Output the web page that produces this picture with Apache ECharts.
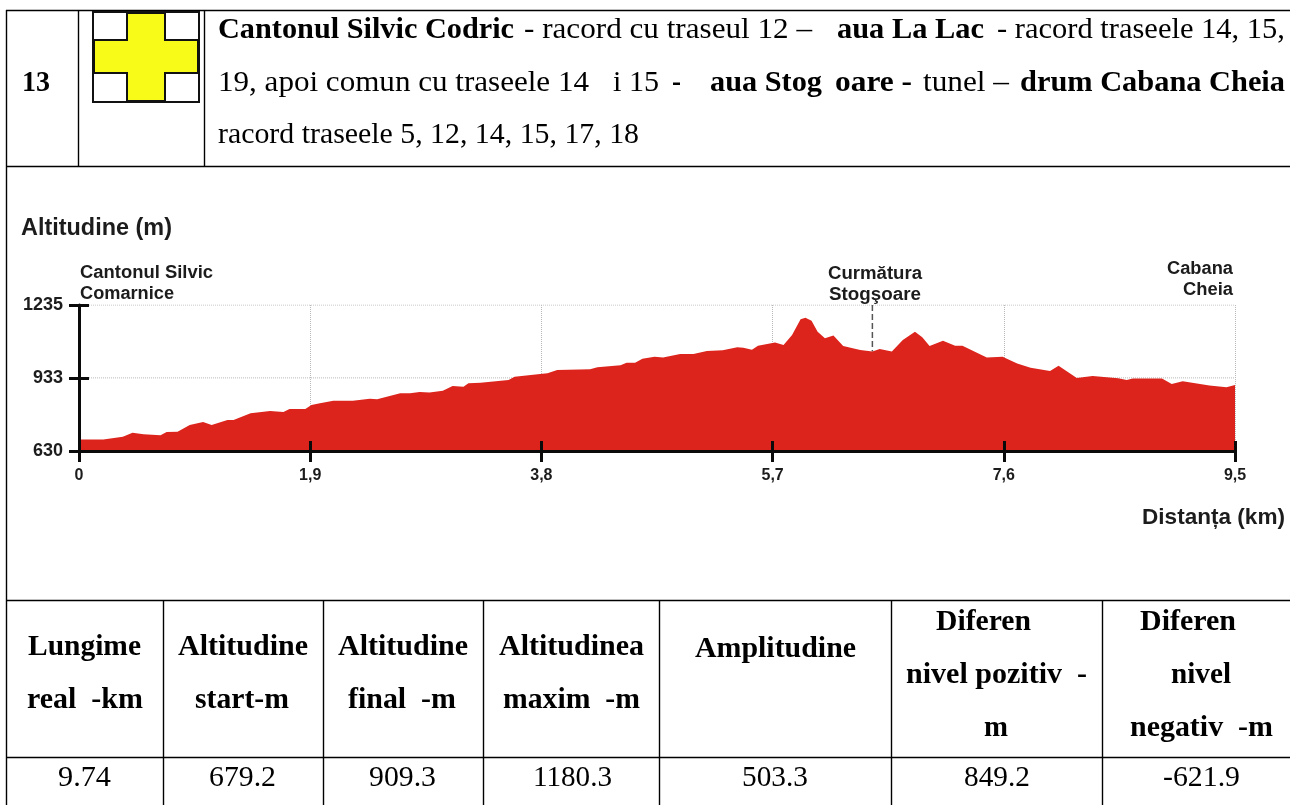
<!DOCTYPE html>
<html><head><meta charset="utf-8">
<style>html,body{margin:0;padding:0;background:#fff}#c{width:1290px;height:805px}</style>
<script src="https://cdn.jsdelivr.net/npm/echarts@6/dist/echarts.min.js"></script>
</head><body><div id="c"></div>
<script>
// ---- chart values ----
const distanceKm = [0,0.01,0.20,0.36,0.44,0.53,0.67,0.72,0.81,0.91,1.02,1.09,1.22,1.27,1.41,1.57,1.68,1.73,1.86,1.91,1.98,2.09,2.25,2.39,2.45,2.64,2.72,2.80,2.88,2.99,3.07,3.16,3.20,3.30,3.53,3.58,3.79,3.85,3.93,4.20,4.26,4.45,4.50,4.57,4.63,4.73,4.80,4.94,5.05,5.16,5.29,5.41,5.46,5.53,5.58,5.72,5.79,5.86,5.93,5.97,6.02,6.07,6.13,6.20,6.28,6.42,6.52,6.58,6.68,6.77,6.87,6.93,6.99,7.10,7.20,7.26,7.46,7.59,7.71,7.82,7.98,8.05,8.20,8.33,8.54,8.61,8.66,8.90,8.98,9.07,9.29,9.43,9.50];
const altitudeM = [678,678,678,689,706,699,695,709,710,738,750,738,758,758,786,796,792,804,804,821,828,838,838,847,844,869,869,874,872,880,899,896,911,913,924,938,949,952,966,969,977,985,996,996,1012,1021,1017,1032,1032,1044,1047,1060,1058,1050,1066,1080,1069,1111,1176,1182,1170,1124,1097,1109,1065,1049,1042,1053,1042,1090,1124,1101,1065,1087,1066,1066,1017,1021,993,975,962,983,933,941,931,924,930,930,908,919,901,894,904];
const xTicks = [0,1.9,3.8,5.7,7.6,9.5];
const yTicks = [630,933,1235];
const saddleKm = [6.52,6.52];
const saddleAlt = [1235,1042];

// ---- texts ----
const chartTexts = ["Altitudine (m)","Cantonul Silvic","Comarnice","Curmătura","Stogşoare","Cabana","Cheia","Distanța (km)"];
const routeTexts = ["13","Cantonul Silvic Codric","- racord cu traseul 12 –","aua La Lac","- racord traseele 14, 15,","19, apoi comun cu traseele 14","i 15","-","aua Stog","oare -","tunel –","drum Cabana Cheia","racord traseele 5, 12, 14, 15, 17, 18"];
const statHeaders = ["Lungime","real  -km","Altitudine","start-m","Altitudine","final  -m","Altitudinea","maxim  -m","Amplitudine","Diferen","nivel pozitiv  -","m","Diferen","nivel","negativ  -m"];
const statValues = ["9.74","679.2","909.3","1180.3","503.3","849.2","-621.9"];

// ---- layout (x0, x1, y) parallel to the text lists ----
const chartTextPos = [[21,172,229,23],[80,213,273,18],[80,174,294,18],[828,922,274,18],[829,921,295,18],[1167,1233,269,18],[1183,1233,290,18],[1142,1285,518,22.5]];
const routeTextPos = [[22,50,83,1],[218,514,30,1],[524,812,30,0],[837,984,30,1],[997,1285,30,0],[218,589,83,0],[613,659,83,0],[672,681,83,1],[710,822,83,1],[835,912,83,1],[923,1009,83,0],[1020,1285,83,1],[218,639,135,0]];
const headerPos = [[28,141,647],[27,143,700],[178,308,647],[195,289,700],[338,468,647],[348,456,700],[499,644,647],[503,640,700],[695,856,649],[936,1031,622],[906,1087,675],[984,1008,728],[1140,1236,622],[1171,1231,675],[1130,1273,728]];
const valuePos = [[58,111],[209,276],[369,436],[533,612],[742,808],[964,1030],[1163,1240]];
const hLines = [[6,1290,10],[6,1290,166],[6,1290,600],[6,1290,757]];
const vLines = [[6,10,805],[78,10,166],[204,10,166],[163,600,805],[323,600,805],[483,600,805],[659,600,805],[891,600,805],[1102,600,805]];

const mc = document.createElement('canvas').getContext('2d');
function fit(str,x0,x1,y,font,fill){
  mc.font = font;
  const w = mc.measureText(str).width;
  return {type:'text',x:x0,y:y,scaleX:(x1-x0)/w,z:10,silent:true,
    style:{text:str,font:font,fill:fill,textAlign:'left',textVerticalAlign:'middle'}};
}
const serif = (b,s)=>(b?'bold ':'')+s+'px "Liberation Serif"';
const sans = s=>'bold '+s+'px "Liberation Sans"';
const g = [];
hLines.forEach(l=>g.push({type:'line',z:9,silent:true,shape:{x1:l[0],y1:l[2]+.5,x2:l[1],y2:l[2]+.5},style:{stroke:'#000',lineWidth:1.4}}));
vLines.forEach(l=>g.push({type:'line',z:9,silent:true,shape:{x1:l[0]+.5,y1:l[1],x2:l[0]+.5,y2:l[2]},style:{stroke:'#000',lineWidth:1.4}}));
// trail marker: a yellow cross in a black square
g.push({type:'rect',z:9,silent:true,shape:{x:93,y:12,width:106,height:90},style:{fill:'#fff',stroke:'#111',lineWidth:2}});
g.push({type:'polygon',z:9,silent:true,shape:{points:[[127,13],[165,13],[165,40],[198,40],[198,73],[165,73],[165,101],[127,101],[127,73],[94,73],[94,40],[127,40]]},style:{fill:'#f8fb18',stroke:'#111',lineWidth:2}});
chartTexts.forEach((t,i)=>{const p=chartTextPos[i];g.push(fit(t,p[0],p[1],p[2],sans(p[3]),'#1c1c1c'));});
routeTexts.forEach((t,i)=>{const p=routeTextPos[i];g.push(fit(t,p[0],p[1],p[2],serif(p[3],30),'#000'));});
statHeaders.forEach((t,i)=>{const p=headerPos[i];g.push(fit(t,p[0],p[1],p[2],serif(1,30),'#000'));});
statValues.forEach((t,i)=>{const p=valuePos[i];g.push(fit(t,p[0],p[1],778,serif(0,30),'#000'));});

const blackLine = {show:true,onZero:false,lineStyle:{color:'#0a0a0a',width:3}};
const grid = {type:'dotted',color:'#b9b9b9',width:1};
const xBase = {type:'value',min:0,max:9.5,interval:1.9,position:'bottom',scale:false};
const yBase = {type:'value',min:630,max:1235,position:'left'};
const option = {
  animation:false,
  backgroundColor:'#fff',
  grid:{left:79,top:305,width:1156,height:146,containLabel:false},
  xAxis:[
    {...xBase,z:0,axisLine:{show:false},axisTick:{show:false},axisLabel:{show:false},splitLine:{show:true,lineStyle:grid}},
    {...xBase,z:5,axisLine:blackLine,splitLine:{show:false},
      axisTick:{show:true,inside:false,length:11,lineStyle:{color:'#0a0a0a',width:3}},
      axisLabel:{show:true,margin:17,color:'#1c1c1c',fontFamily:'Liberation Sans',fontWeight:'bold',fontSize:16,hideOverlap:false,showMinLabel:true,showMaxLabel:true,
        formatter:v=>String(xTicks.find(t=>Math.abs(t-v)<1e-6)).replace('.',',')}},
    {...xBase,z:5,axisLine:{show:false},splitLine:{show:false},axisLabel:{show:false},
      axisTick:{show:true,inside:true,length:10,lineStyle:{color:'#0a0a0a',width:3}}}
  ],
  yAxis:[
    {...yBase,z:0,axisLine:{show:false},axisLabel:{show:false},axisTick:{show:false},
      splitLine:{show:false}},
    {...yBase,z:5,axisLine:blackLine,splitLine:{show:false},
      axisTick:{show:true,inside:false,length:10,customValues:yTicks,lineStyle:{color:'#0a0a0a',width:3}},
      axisLabel:{show:true,margin:16,customValues:yTicks,color:'#1c1c1c',fontFamily:'Liberation Sans',fontWeight:'bold',fontSize:18,formatter:v=>String(Math.round(v))}},
    {...yBase,z:5,axisLine:{show:false},splitLine:{show:false},axisLabel:{show:false},
      axisTick:{show:true,inside:true,length:10,customValues:yTicks,lineStyle:{color:'#0a0a0a',width:3}}}
  ],
  series:[
    {type:'line',z:1,symbol:'none',silent:true,data:yTicks.slice(1).flatMap(v=>[[0,v],[9.5,v],[null,null]]),connectNulls:false,
      lineStyle:{type:'dotted',color:'#b9b9b9',width:1}},
    {type:'line',z:1,symbol:'none',silent:true,data:saddleKm.map((k,i)=>[k,saddleAlt[i]]),
      lineStyle:{type:'dashed',color:'#555',width:1.5}},
    {type:'line',z:2,symbol:'none',silent:true,data:distanceKm.map((k,i)=>[k,altitudeM[i]]),
      lineStyle:{width:0},itemStyle:{color:'#dc241c'},areaStyle:{color:'#dc241c',opacity:1,origin:'start'}}
  ],
  graphic:g
};
const chart = echarts.init(document.getElementById('c'),null,{renderer:'canvas',width:1290,height:805});
chart.setOption(option);
</script></body></html>
